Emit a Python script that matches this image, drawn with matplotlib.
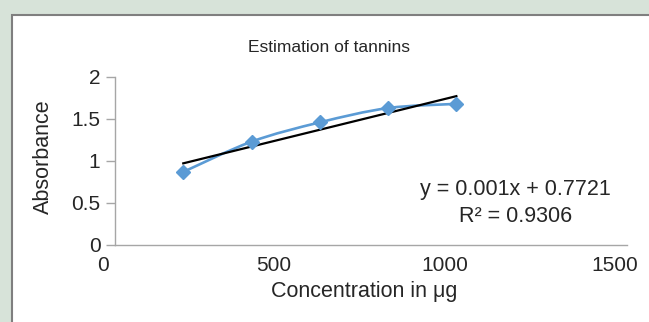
import matplotlib.pyplot as plt
import matplotlib.patches as patches
import matplotlib.transforms as mtransforms
from matplotlib.path import Path

plt.rcParams['font.family'] = ['Liberation Sans', 'DejaVu Sans']

# Tannin standard curve
concentration = [200, 400, 600, 800, 1000]
absorbance = [0.87, 1.23, 1.46, 1.63, 1.68]

# Linear trendline as reported
slope = 0.001
intercept = 0.7721
r_squared = 0.9306

x_ticks = [0, 500, 1000, 1500]
y_ticks = [0, 0.5, 1, 1.5, 2]
y_ticklabels = ['0', '0.5', '1', '1.5', '2']

blue = '#5B9BD5'
axis_gray = '#A6A6A6'
text_color = '#262626'

W, H = 649, 322
fig = plt.figure(figsize=(W / 100, H / 100), dpi=100, facecolor='#D7E3D9')

# white chart panel with a gray border
panel = patches.Rectangle((12 / W, -0.1), 1.2, (H - 15) / H + 0.1,
                          transform=fig.transFigure, facecolor='white',
                          edgecolor='#7F7F7F', linewidth=1.5, zorder=-5)
fig.patches.append(panel)

ax = fig.add_axes([115 / W, 1 - 245 / H, 512 / W, 168 / H])
ax.set_zorder(2)
ax.set_facecolor('none')
ax.set_xlim(0, 1500)
ax.set_ylim(0, 2)

for side in ['top', 'right']:
    ax.spines[side].set_visible(False)
for side in ['left', 'bottom']:
    ax.spines[side].set_color(axis_gray)
    ax.spines[side].set_linewidth(1.0)

ax.set_xticks(x_ticks)
ax.set_xticklabels([str(t) for t in x_ticks])
ax.set_yticks(y_ticks)
ax.set_yticklabels(y_ticklabels)
ax.tick_params(axis='x', length=0, pad=8, labelsize=15, labelcolor=text_color)
ax.tick_params(axis='y', length=6.5, width=1.0, color=axis_gray, pad=4,
               labelsize=15, labelcolor=text_color)

# x labels sit a little left of their ticks
shift = mtransforms.ScaledTranslation(-12 / 100, 0, fig.dpi_scale_trans)
for lbl in ax.get_xticklabels():
    lbl.set_transform(lbl.get_transform() + shift)

# smoothed series line (Catmull-Rom style bezier through the points)
pts = list(zip(concentration, absorbance))
verts = [pts[0]]
codes = [Path.MOVETO]
for i in range(len(pts) - 1):
    p0 = pts[i - 1] if i > 0 else pts[i]
    p1 = pts[i]
    p2 = pts[i + 1]
    p3 = pts[i + 2] if i + 2 < len(pts) else pts[i + 1]
    c1 = (p1[0] + (p2[0] - p0[0]) / 6, p1[1] + (p2[1] - p0[1]) / 6)
    c2 = (p2[0] - (p3[0] - p1[0]) / 6, p2[1] - (p3[1] - p1[1]) / 6)
    verts += [c1, c2, p2]
    codes += [Path.CURVE4] * 3
curve = patches.PathPatch(Path(verts, codes), facecolor='none',
                          edgecolor=blue, linewidth=1.9, zorder=2)
ax.add_patch(curve)

# trendline
tx = [concentration[0], concentration[-1]]
ty = [slope * x + intercept for x in tx]
ax.plot(tx, ty, color='black', linewidth=1.6, zorder=3)

ax.plot(concentration, absorbance, linestyle='none', marker='D',
        markersize=7.5, color=blue, zorder=4)

fig.text(329 / W, 1 - 47 / H, 'Estimation of tannins', ha='center',
         va='center', fontsize=12.5, color=text_color)
fig.text(43 / W, 1 - 157 / H, 'Absorbance', rotation=90, ha='center',
         va='center', fontsize=15.5, color=text_color)
fig.text(364 / W, 1 - 292 / H, 'Concentration in μg', ha='center',
         va='center', fontsize=15.5, color=text_color)
fig.text(515 / W, 1 - 190 / H, f'y = {slope}x + {intercept}', ha='center',
         va='center', fontsize=15.5, color=text_color)
fig.text(516 / W, 1 - 217 / H, f'R² = {r_squared}', ha='center',
         va='center', fontsize=15.5, color=text_color)

fig.savefig('out.png', dpi=100, facecolor=fig.get_facecolor())
